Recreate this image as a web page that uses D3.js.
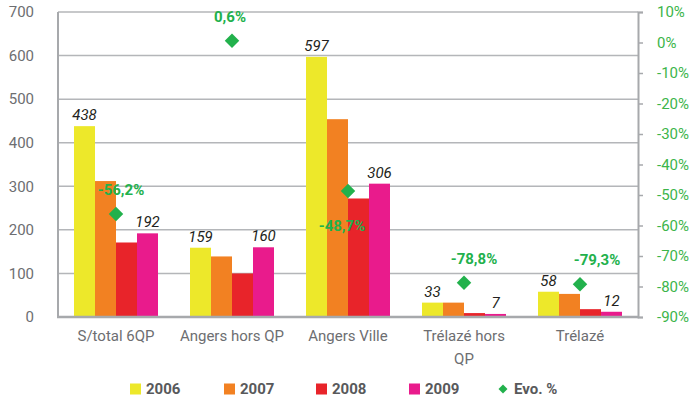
<!DOCTYPE html>
<html>
<head>
<meta charset="utf-8">
<script src="https://cdn.jsdelivr.net/npm/d3@7"></script>
<style>
  body { margin: 0; background: #fff; }
  svg { display: block; font-family: Roboto, "DejaVu Sans", sans-serif; }
</style>
</head>
<body>
<div id="chart"></div>
<script>
// data
const categories = ["S/total 6QP", "Angers hors QP", "Angers Ville", "Trélazé hors QP", "Trélazé"];
const years = ["2006", "2007", "2008", "2009"];
const values2006 = [438, 159, 597, 33, 58];
const values2007 = [312, 139, 454, 33, 53];
const values2008 = [171, 100, 272, 9, 18];
const values2009 = [192, 160, 306, 7, 12];
const evoPct = [-56.2, 0.6, -48.7, -78.8, -79.3];
const leftTicks = [0, 100, 200, 300, 400, 500, 600, 700];
const rightTicks = [10, 0, -10, -20, -30, -40, -50, -60, -70, -80, -90];

const series = [values2006, values2007, values2008, values2009];
const colors = ["#ede82a", "#f28122", "#e8242a", "#e91b8c"];
const green = "#22b14c";
const axisGray = "#a7a9ac";
const textGray = "#6d6e71";

const width = 694;
const height = 400;
const margin = { top: 12, right: 55, bottom: 83, left: 58 };

const svg = d3
  .select("#chart")
  .append("svg")
  .attr("width", width)
  .attr("height", height);

const x0 = d3
  .scaleBand()
  .domain(categories)
  .range([margin.left, width - margin.right - 1])
  .paddingInner(0.276)
  .paddingOuter(0.138);

const x1 = d3.scaleBand().domain(years).range([0, x0.bandwidth()]).padding(0);

const y = d3.scaleLinear().domain([0, 700]).range([height - margin.bottom, margin.top]);
const y2 = d3.scaleLinear().domain([-90, 10]).range([height - margin.bottom, margin.top]);

const plotRight = width - margin.right - 1;

// gridlines
svg
  .append("g")
  .selectAll("line")
  .data(leftTicks.filter((d) => d > 0))
  .join("line")
  .attr("x1", margin.left)
  .attr("x2", plotRight)
  .attr("y1", (d) => y(d))
  .attr("y2", (d) => y(d))
  .attr("stroke", "#b4b6b9")
  .attr("stroke-width", 1.5);

// left tick labels
svg
  .append("g")
  .selectAll("text")
  .data(leftTicks)
  .join("text")
  .attr("x", 34)
  .attr("y", (d) => y(d))
  .attr("dy", "0.35em")
  .attr("text-anchor", "end")
  .attr("fill", textGray)
  .style("font-size", "15px")
  .text((d) => d);

// bars
const groups = svg
  .append("g")
  .selectAll("g")
  .data(categories)
  .join("g")
  .attr("transform", (d) => `translate(${x0(d)},0)`);

groups
  .selectAll("rect")
  .data((d, i) => years.map((yr, j) => ({ yr, v: series[j][i], j })))
  .join("rect")
  .attr("x", (d) => x1(d.yr))
  .attr("y", (d) => y(d.v))
  .attr("width", x1.bandwidth())
  .attr("height", (d) => y(0) - y(d.v))
  .attr("fill", (d) => colors[d.j]);

// value labels above 2006 and 2009 bars
groups
  .selectAll("text.val")
  .data((d, i) => [
    { yr: "2006", v: values2006[i] },
    { yr: "2009", v: values2009[i] },
  ])
  .join("text")
  .attr("class", "val")
  .attr("x", (d) => x1(d.yr) + x1.bandwidth() / 2)
  .attr("y", (d) => y(d.v) - 6)
  .attr("text-anchor", "middle")
  .attr("fill", "#231f20")
  .style("font-size", "15px")
  .style("font-style", "italic")
  .text((d) => d.v);

// axes lines
svg
  .append("line")
  .attr("x1", margin.left)
  .attr("x2", margin.left)
  .attr("y1", margin.top)
  .attr("y2", y(0))
  .attr("stroke", axisGray)
  .attr("stroke-width", 2);

svg
  .append("line")
  .attr("x1", margin.left - 1)
  .attr("x2", plotRight + 1)
  .attr("y1", y(0))
  .attr("y2", y(0))
  .attr("stroke", axisGray)
  .attr("stroke-width", 2.5);

// right axis
const rightAxis = svg
  .append("g")
  .attr("transform", `translate(${plotRight},0)`)
  .call(
    d3
      .axisRight(y2)
      .tickValues(rightTicks)
      .tickSize(5)
      .tickPadding(14)
      .tickFormat((d) => d + "%")
  );
rightAxis.select(".domain").attr("stroke", axisGray).attr("stroke-width", 2);
rightAxis.selectAll(".tick line").attr("stroke", axisGray).attr("stroke-width", 1.5);
rightAxis
  .selectAll(".tick text")
  .attr("fill", "#3cb54a")
  .style("font-size", "15px")
  .style("font-family", "Roboto, sans-serif");

// category labels (wrap long ones)
const catLabels = svg
  .append("g")
  .selectAll("text")
  .data(categories)
  .join("text")
  .attr("x", (d) => x0(d) + x0.bandwidth() / 2)
  .attr("y", y(0) + 24)
  .attr("text-anchor", "middle")
  .attr("fill", textGray)
  .style("font-size", "15px");

catLabels.each(function (d) {
  const t = d3.select(this);
  const lines = d.length > 14 ? [d.slice(0, d.lastIndexOf(" ")), d.slice(d.lastIndexOf(" ") + 1)] : [d];
  lines.forEach((ln, k) => {
    t.append("tspan")
      .attr("x", t.attr("x"))
      .attr("dy", k === 0 ? 0 : 23)
      .text(ln);
  });
});

// Evo % diamonds
const evoBelow = ["Angers Ville"];
// small horizontal nudges of the % labels, as in the original layout
const evoLabelNudge = [5, -2, -6, 10, 17];
const diamond = d3.symbol(d3.symbolSquare, 105);

svg
  .append("g")
  .selectAll("path")
  .data(categories)
  .join("path")
  .attr("d", diamond)
  .attr("transform", (d, i) => `translate(${x0(d) + x0.bandwidth() / 2},${y2(evoPct[i])}) rotate(45)`)
  .attr("fill", green);

svg
  .append("g")
  .selectAll("text")
  .data(categories)
  .join("text")
  .attr("x", (d, i) => x0(d) + x0.bandwidth() / 2 + evoLabelNudge[i])
  .attr("y", (d, i) => y2(evoPct[i]) + (evoBelow.includes(d) ? 40 : -19))
  .attr("text-anchor", "middle")
  .attr("fill", green)
  .style("font-size", "15px")
  .style("font-weight", "bold")
  .text((d, i) => evoPct[i].toFixed(1).replace(".", ",") + "%");

// legend
const legendItems = years.map((yr, j) => ({ label: yr, color: colors[j], type: "rect" }));
legendItems.push({ label: "Evo. %", color: green, type: "diamond" });
const legendX = [130, 224, 316, 409, 498];

const legend = svg
  .append("g")
  .selectAll("g")
  .data(legendItems)
  .join("g")
  .attr("transform", (d, i) => `translate(${legendX[i]},389)`);

legend
  .filter((d) => d.type === "rect")
  .append("rect")
  .attr("x", 0)
  .attr("y", -5.5)
  .attr("width", 11)
  .attr("height", 11)
  .attr("fill", (d) => d.color);

legend
  .filter((d) => d.type === "diamond")
  .append("path")
  .attr("d", d3.symbol(d3.symbolSquare, 40))
  .attr("transform", "translate(5,0) rotate(45)")
  .attr("fill", (d) => d.color);

legend
  .append("text")
  .attr("x", 16)
  .attr("dy", "0.36em")
  .attr("fill", "#58595b")
  .style("font-size", "15px")
  .style("font-weight", "bold")
  .text((d) => d.label);
</script>
</body>
</html>
